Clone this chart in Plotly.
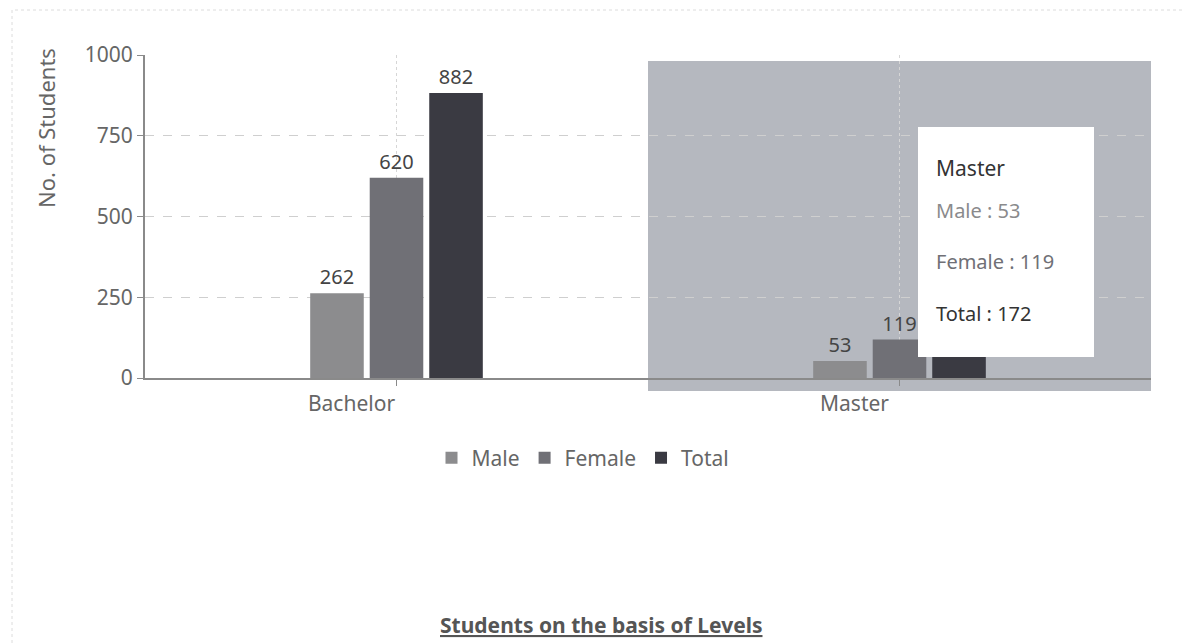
import plotly.graph_objects as go

levels = ["Bachelor", "Master"]
male = [262, 53]
female = [620, 119]
total = [882, 172]
series_names = ["Male", "Female", "Total"]
series_values = [male, female, total]
series_colors = ["#8c8c8e", "#707076", "#3a3a42"]
y_ticks = [0, 250, 500, 750, 1000]
hover_level = 1  # "Master"

OFF = 8  # page body margin
W, H = 1190, 643
# desired plot area in screenshot pixels
PX0, PX1, PY0, PY1 = 145, 1151, 55, 378
L = PX0 - OFF
T = PY0 - OFF
R = W - (PX1 - OFF)
B = H - (PY1 - OFF)
plot_w = PX1 - PX0
plot_h = PY1 - PY0

def px_x(p):
    return (p - PX0) / plot_w

def px_y(p):
    return (PY1 - p) / plot_h

fig = go.Figure()
for name, vals, col in zip(series_names, series_values, series_colors):
    # the hovered category's Total label is covered by the tooltip
    labels = [("" if (name == "Total" and i == hover_level) else str(v)) for i, v in enumerate(vals)]
    fig.add_trace(go.Bar(
        x=levels, y=vals, name=name, marker=dict(color=col, line=dict(width=0)),
        text=labels, textposition="outside",
        textfont=dict(size=20, color="#444444"), cliponaxis=False,
    ))

# hover highlight band on the hovered category
fig.add_shape(type="rect", xref="x", yref="paper",
              x0=hover_level - 0.5, x1=hover_level + 0.5,
              y0=px_y(391), y1=px_y(61),
              fillcolor="#b5b8bf", line=dict(width=0), layer="between")

# tooltip box
fig.add_shape(type="rect", xref="paper", yref="paper",
              x0=px_x(918), x1=px_x(1094), y0=px_y(357), y1=px_y(127),
              fillcolor="white", line=dict(width=0), layer="above")
tip_lines = [(levels[hover_level], "#333333", 21, 168)]
tip_colors = ["#8a8a8c", "#707076", "#333333"]
tip_ys = [210, 261, 313]
for name, vals, c, yy in zip(series_names, series_values, tip_colors, tip_ys):
    tip_lines.append((f"{name} : {vals[hover_level]}", c, 20, yy))
for txt, c, sz, yy in tip_lines:
    fig.add_annotation(text=txt, xref="paper", yref="paper",
                       x=px_x(934), y=px_y(yy), xanchor="left", yanchor="middle",
                       showarrow=False, font=dict(size=sz, color=c,
                       family="Noto Sans, sans-serif"))

# page frame
fig.add_shape(type="rect", xref="paper", yref="paper",
              x0=px_x(12), x1=px_x(1200), y0=px_y(700), y1=px_y(10),
              line=dict(color="#dcdcdc", width=1, dash="dot"), fillcolor="rgba(0,0,0,0)",
              layer="below")

# y-axis title (placed near the top, as in the reference)
fig.add_annotation(text="No. of Students", xref="paper", yref="paper",
                   x=px_x(46), y=px_y(128), xanchor="center", yanchor="middle",
                   textangle=-90, showarrow=False,
                   font=dict(size=22, color="#666666"))

# bottom title
fig.add_annotation(text="<b><u>Students on the basis of Levels</u></b>", xref="paper", yref="paper",
                   x=px_x(601), y=px_y(625), xanchor="center", yanchor="middle",
                   showarrow=False, font=dict(size=21, color="#555555"))

fig.update_layout(
    width=W, height=H,
    margin=dict(l=L, r=R, t=T, b=B, pad=0),
    paper_bgcolor="white", plot_bgcolor="white",
    font=dict(family="Noto Sans, Open Sans, sans-serif", color="#555555"),
    barmode="group", bargap=0.645, bargroupgap=0.1,
    showlegend=True,
    legend=dict(orientation="h", x=px_x(583), xanchor="center", y=px_y(458), yanchor="middle",
                font=dict(size=21, color="#666666"),
                traceorder="normal"),
    xaxis=dict(range=[-0.5, 1.5], showline=True, linecolor="#8a8a8a", linewidth=2,
               ticks="outside", ticklen=6, tickcolor="#8a8a8a",
               tickfont=dict(size=21, color="#666666"), ticklabelshift=-45,
               showgrid=True, gridcolor="#d6d6d6", griddash="dot", gridwidth=1),
    yaxis=dict(range=[0, 1000], tickvals=y_ticks, showline=True, linecolor="#8a8a8a", linewidth=2,
               ticks="outside", ticklen=6, tickcolor="#8a8a8a",
               tickfont=dict(size=21, color="#666666"),
               showgrid=True, gridcolor="#cfcfcf", griddash="dash", gridwidth=1,
               zeroline=False),
)

fig.write_html("out.html")
